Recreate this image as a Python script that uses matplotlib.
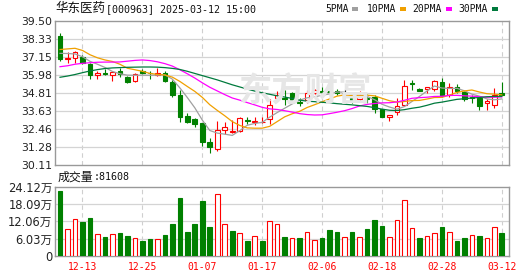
import matplotlib
matplotlib.use('Agg')
import matplotlib.pyplot as plt
from matplotlib.patches import Rectangle
import numpy as np

# daily OHLC (2024-12-10 .. 2025-03-12)
opens = [38.54, 37.02, 37.11, 37.19, 36.72, 35.98, 36.11, 35.98, 36.28, 35.89,
         35.59, 36.24, 36.15, 36.02, 36.15, 35.54, 34.71, 33.32, 33.11, 32.85,
         31.63, 31.19, 32.41, 32.28, 32.33, 33.06, 32.93, 32.92, 33.15, 34.47,
         34.50, 34.84, 34.26, 34.35, 34.84, 34.97, 34.97, 34.97, 34.80, 34.50,
         34.45, 34.50, 34.58, 33.76, 33.28, 33.57, 34.04, 35.46, 35.11, 35.07,
         35.07, 35.54, 34.71, 35.20, 34.89, 34.56, 34.48, 34.15, 34.02, 34.80]
highs = [38.72, 37.50, 37.58, 37.32, 36.80, 36.28, 36.41, 36.28, 36.45, 35.93,
         36.11, 36.41, 36.28, 36.45, 36.24, 35.67, 35.02, 33.54, 33.19, 32.88,
         31.89, 33.02, 32.93, 33.06, 33.28, 33.28, 33.24, 33.24, 34.41, 34.95,
         35.00, 34.88, 34.48, 35.02, 35.07, 35.20, 35.24, 35.11, 35.07, 34.56,
         34.94, 34.76, 34.67, 33.80, 33.41, 34.50, 35.67, 35.67, 35.15, 35.20,
         35.65, 35.80, 35.46, 35.41, 34.93, 34.67, 34.54, 34.41, 35.15, 35.54]
lows = [36.93, 36.76, 36.80, 36.72, 35.76, 35.72, 35.98, 35.63, 35.89, 35.50,
        35.54, 36.06, 35.76, 35.93, 35.54, 34.58, 32.95, 32.85, 32.63, 31.37,
        30.89, 31.02, 32.15, 32.20, 32.28, 32.80, 32.72, 32.85, 32.80, 34.37,
        34.05, 34.33, 33.98, 34.15, 34.77, 34.67, 34.63, 34.67, 34.54, 34.15,
        34.28, 34.15, 33.54, 33.24, 32.98, 33.40, 33.98, 35.02, 34.93, 34.80,
        34.93, 34.58, 34.54, 34.80, 34.28, 34.15, 33.72, 33.72, 33.85, 34.69]
closes = [37.06, 37.10, 37.48, 36.80, 36.02, 36.11, 36.04, 36.19, 36.06, 35.54,
          36.06, 36.11, 36.11, 36.15, 35.63, 34.67, 33.24, 32.95, 32.80, 31.63,
          31.28, 32.41, 32.59, 32.37, 33.19, 33.02, 33.02, 32.95, 34.05, 34.69,
          34.45, 34.40, 34.19, 34.84, 35.02, 34.89, 34.89, 34.80, 34.80, 34.32,
          34.63, 34.45, 33.76, 33.28, 33.41, 33.95, 35.28, 35.41, 34.93, 35.20,
          35.59, 34.63, 35.24, 34.97, 34.41, 34.52, 33.98, 34.32, 34.67, 34.71]

# moving averages as drawn on the chart
ma5 = [37.41, 37.40, 37.37, 37.19, 36.89, 36.70, 36.49, 36.23, 36.08, 35.99,
       35.98, 35.99, 35.98, 35.99, 36.01, 35.73, 35.16, 34.53, 33.86, 33.06,
       32.38, 32.21, 32.14, 32.06, 32.37, 32.72, 32.84, 32.91, 33.25, 33.55,
       33.83, 34.11, 34.36, 34.51, 34.58, 34.67, 34.77, 34.89, 34.88, 34.74,
       34.69, 34.60, 34.39, 34.09, 33.91, 33.77, 33.94, 34.27, 34.60, 34.95,
       35.28, 35.15, 35.12, 35.13, 34.97, 34.75, 34.62, 34.44, 34.38, 34.44]
ma10 = [37.66, 37.70, 37.74, 37.60, 37.32, 37.12, 36.98, 36.88, 36.70, 36.44,
        36.34, 36.24, 36.10, 36.04, 36.00, 35.86, 35.58, 35.25, 34.93, 34.54,
        34.06, 33.69, 33.34, 32.96, 32.71, 32.55, 32.53, 32.53, 32.65, 32.96,
        33.27, 33.47, 33.63, 33.88, 34.06, 34.25, 34.44, 34.62, 34.70, 34.66,
        34.68, 34.68, 34.64, 34.48, 34.32, 34.23, 34.27, 34.33, 34.34, 34.43,
        34.53, 34.54, 34.69, 34.86, 34.96, 35.02, 34.89, 34.78, 34.75, 34.70]
ma20 = [36.54, 36.60, 36.70, 36.76, 36.80, 36.83, 36.84, 36.84, 36.85, 36.90,
        36.95, 36.98, 36.94, 36.86, 36.74, 36.58, 36.34, 36.08, 35.80, 35.49,
        35.20, 34.96, 34.72, 34.50, 34.36, 34.20, 34.05, 33.89, 33.79, 33.75,
        33.67, 33.58, 33.48, 33.42, 33.39, 33.40, 33.48, 33.57, 33.67, 33.81,
        33.98, 34.08, 34.14, 34.18, 34.19, 34.24, 34.35, 34.48, 34.52, 34.55,
        34.60, 34.61, 34.67, 34.67, 34.64, 34.62, 34.58, 34.55, 34.55, 34.57]
ma30 = [35.85, 35.93, 36.03, 36.15, 36.26, 36.35, 36.42, 36.46, 36.48, 36.50,
        36.51, 36.52, 36.52, 36.51, 36.48, 36.43, 36.36, 36.24, 36.10, 35.96,
        35.82, 35.68, 35.52, 35.36, 35.22, 35.08, 34.95, 34.84, 34.74, 34.64,
        34.56, 34.47, 34.36, 34.29, 34.26, 34.22, 34.18, 34.13, 34.09, 34.05,
        34.00, 33.95, 33.87, 33.77, 33.70, 33.68, 33.74, 33.83, 33.90, 34.02,
        34.16, 34.23, 34.32, 34.41, 34.45, 34.50, 34.53, 34.58, 34.60, 34.60]

# volume in 万 and whether the bar is drawn red (1) or green (0)
volume = [22.59, 9.41, 12.94, 12.00, 13.06, 7.65, 6.70, 7.65, 8.12, 7.06,
          6.24, 5.30, 6.00, 5.88, 7.41, 11.30, 20.10, 8.47, 11.30, 19.06,
          10.24, 21.50, 11.18, 8.82, 8.12, 5.06, 6.94, 5.06, 12.24, 11.30,
          6.70, 6.24, 6.35, 8.47, 5.53, 6.35, 9.18, 8.24, 6.59, 8.24,
          6.70, 9.53, 12.70, 10.60, 6.59, 12.60, 19.65, 9.77, 6.35, 6.94,
          8.12, 10.24, 8.47, 5.30, 6.35, 7.41, 7.06, 6.24, 10.12, 8.16]
vol_up = [0, 1, 1, 0, 0, 1, 0, 1, 0, 0, 1, 0, 0, 1, 0, 0, 0, 0, 0, 0,
          0, 1, 1, 0, 1, 0, 1, 0, 1, 1, 0, 1, 0, 1, 1, 0, 0, 0, 1, 0,
          1, 0, 0, 0, 1, 1, 1, 1, 0, 1, 1, 0, 1, 0, 0, 1, 0, 1, 1, 0]

date_pos = [3, 11, 19, 27, 35, 43, 51, 59]
date_labels = ['12-13', '12-25', '01-07', '01-17', '02-06', '02-18', '02-28', '03-12']
price_labels = ['30.11', '31.28', '32.46', '33.63', '34.81', '35.98', '37.15', '38.33', '39.50']
vol_labels = ['0', '6.03万', '12.06万', '18.09万', '24.12万']

RED = '#ff0000'
GREEN = '#008000'
W, H = 530, 276

fig = plt.figure(figsize=(W / 100, H / 100), dpi=100)
fig.patch.set_facecolor('white')


def px(x, y):
    return x / W, 1 - y / H


ax = fig.add_axes([55.3 / W, 1 - 165.3 / H, 454 / W, 144 / H])
axv = fig.add_axes([55.3 / W, 1 - 256 / H, 454 / W, 69.3 / H])

x = np.arange(len(closes))
o = np.array(opens)
c = np.array(closes)

for a in (ax, axv):
    a.set_xlim(-0.63, 60.0)
    for s in a.spines.values():
        s.set_color('#999999')
        s.set_linewidth(1.0)
    a.tick_params(length=0)
    for p in date_pos:
        a.axvline(p, color='#cfcfcf', lw=0.8, ls=(0, (4, 3)), zorder=0)

# price panel
ax.set_ylim(30.11, 39.50)
yt = np.linspace(30.11, 39.50, 9)
ax.set_yticks(yt)
ax.set_yticklabels(price_labels, fontsize=7.8, color='#222222', family='DejaVu Sans')
ax.tick_params(axis='y', pad=2)
ax.set_xticks([])
for v in yt[1:-1]:
    ax.axhline(v, color='#d4d4d4', lw=0.9, zorder=0)

# faint site watermark in the middle of the price panel
fig.text(*px(305, 92), '东方财富', fontsize=24, color='#e6e6e6',
         family='Noto Sans CJK SC', weight='bold', ha='center', va='center',
         zorder=0.5, style='italic')

colors = np.where(c > o, RED, np.where(c < o, GREEN, '#000000'))
ax.vlines(x, lows, highs, colors=colors, lw=0.8, zorder=2)
for i in x:
    col = colors[i]
    if abs(c[i] - o[i]) < 0.005:
        ax.hlines(o[i], i - 0.33, i + 0.33, colors=col, lw=0.9, zorder=3)
        continue
    face = 'white' if c[i] > o[i] else col
    ax.bar(i, abs(c[i] - o[i]), 0.62, bottom=min(o[i], c[i]), facecolor=face,
           edgecolor=col, lw=0.8, zorder=3)

ax.plot(x, ma5, color='#a0a0a0', lw=0.9, zorder=4)
ax.plot(x, ma10, color='#f0a000', lw=0.9, zorder=4)
ax.plot(x, ma20, color='#ff00ff', lw=0.9, zorder=4)
ax.plot(x, ma30, color='#007a3d', lw=0.9, zorder=4)
ax.patch.set_alpha(0)

# volume panel
axv.set_ylim(0, 24.12)
vt = np.linspace(0, 24.12, 5)
axv.set_yticks(vt)
axv.set_yticklabels(vol_labels, fontsize=8.3, color='#222222',
                    family=['DejaVu Sans', 'Noto Sans CJK SC'])
axv.tick_params(axis='y', pad=2)
for v in vt[1:-1]:
    axv.axhline(v, color='#d4d4d4', lw=0.9, zorder=0)
vface = ['white' if u else GREEN for u in vol_up]
vedge = [RED if u else GREEN for u in vol_up]
axv.bar(x, volume, 0.62, facecolor=vface, edgecolor=vedge, lw=0.8, zorder=3)
axv.set_xticks(date_pos)
axv.set_xticklabels(date_labels, fontsize=7.0, color=RED, family='DejaVu Sans Mono')
axv.tick_params(axis='x', pad=4)

# header texts
fig.text(*px(55.3, 8.8), '华东医药', fontsize=9, family='Noto Sans CJK SC',
         va='center', ha='left', color='#111111')
fig.text(*px(106, 8.8), '[000963] 2025-03-12 15:00', fontsize=7.2,
         family='DejaVu Sans Mono', va='center', ha='left', color='#111111')

legend = [('5PMA', 325.7, 352.0, '#a0a0a0'), ('10PMA', 367.3, 400.0, '#f0a000'),
          ('20PMA', 412.7, 446.0, '#ff00ff'), ('30PMA', 458.7, 492.3, '#007a3d')]
for name, tx, bx, col in legend:
    fig.text(*px(tx, 9.0), name, fontsize=7.0, family='DejaVu Sans Mono',
             va='center', ha='left', color='#111111')
    fig.add_artist(Rectangle(px(bx, 11.0), 6 / W, 4 / H, transform=fig.transFigure,
                             facecolor=col, edgecolor='none'))

fig.text(*px(57.3, 177.5), '成交量', fontsize=8.6, family='Noto Sans CJK SC',
         va='center', ha='left', color='#111111')
fig.text(*px(93.3, 177.5), ':81608', fontsize=7.2, family='DejaVu Sans Mono',
         va='center', ha='left', color='#111111')

fig.savefig('out.png', dpi=100)
